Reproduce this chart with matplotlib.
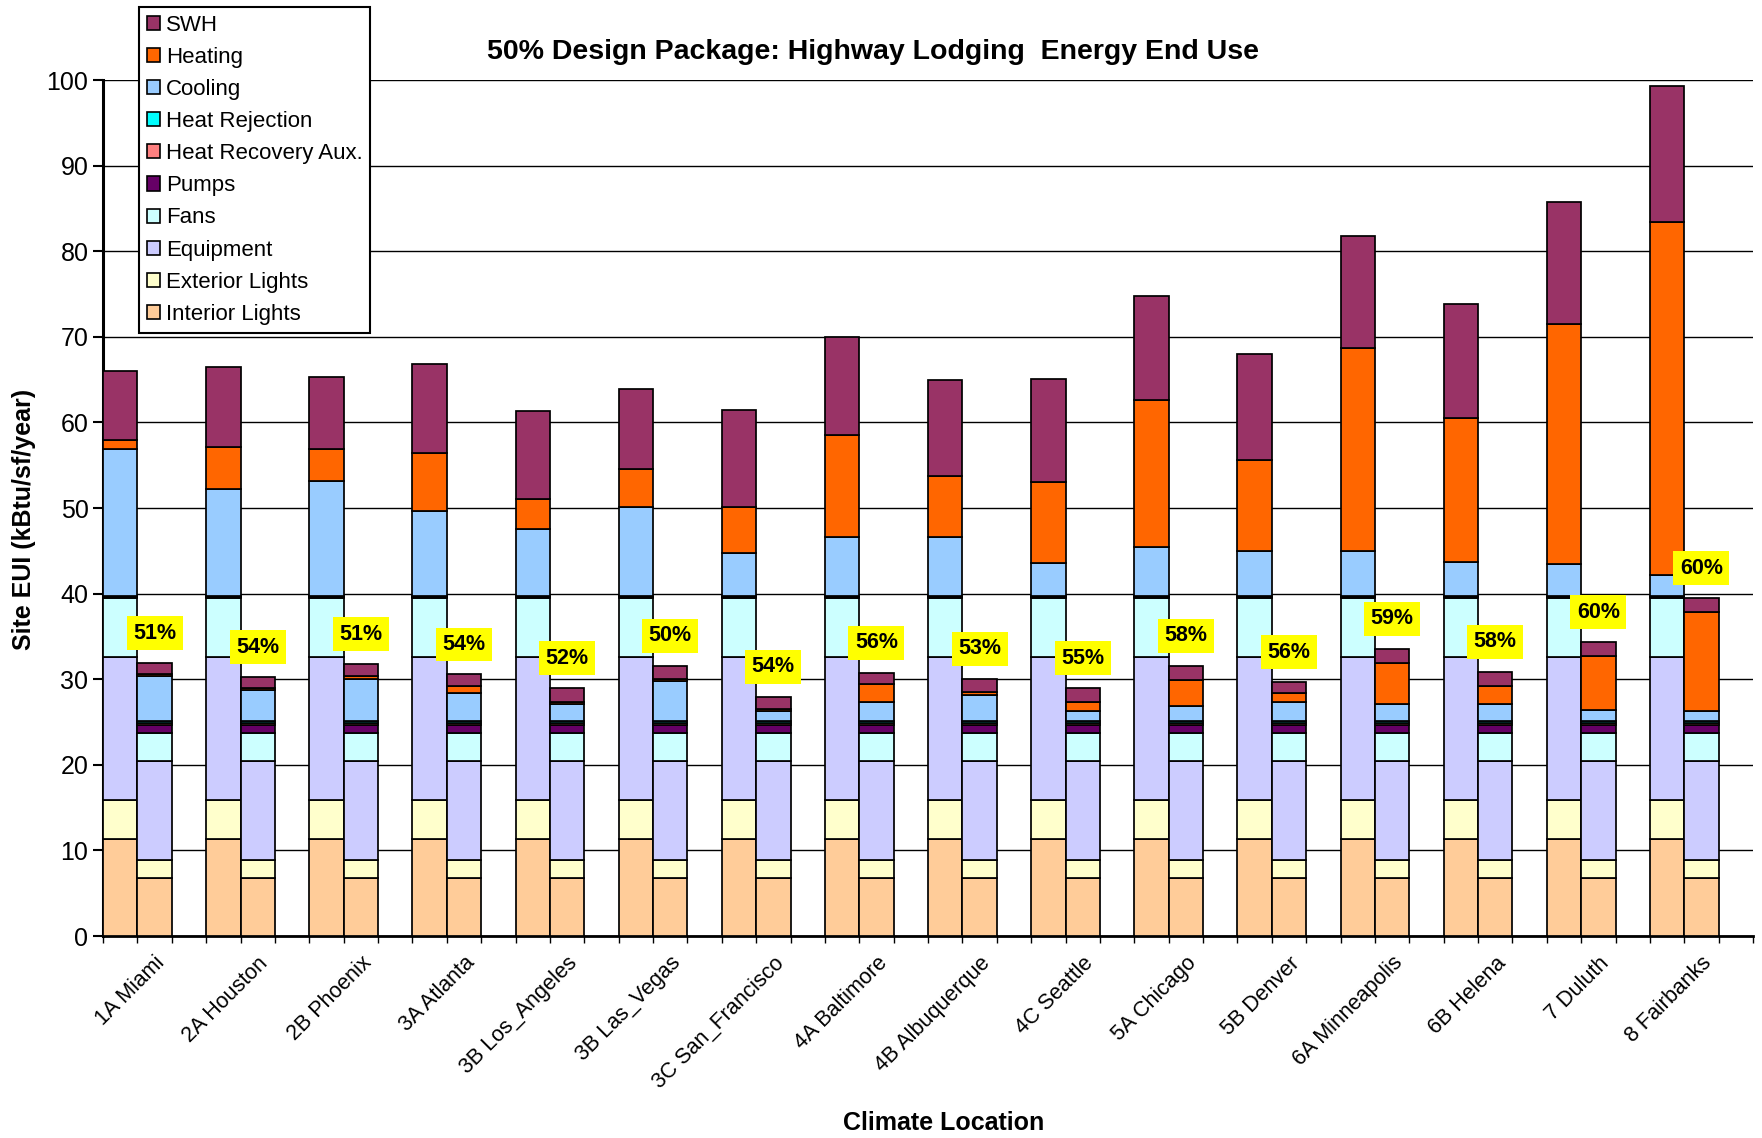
import matplotlib
matplotlib.use("Agg")
import matplotlib.pyplot as plt
import numpy as np
from matplotlib.patches import Patch

plt.rcParams["font.family"] = ["Liberation Sans", "DejaVu Sans"]

W, H = 1762, 1138

LOCATIONS = [
    "1A Miami", "2A Houston", "2B Phoenix", "3A Atlanta", "3B Los_Angeles",
    "3B Las_Vegas", "3C San_Francisco", "4A Baltimore", "4B Albuquerque",
    "4C Seattle", "5A Chicago", "5B Denver", "6A Minneapolis", "6B Helena",
    "7 Duluth", "8 Fairbanks",
]
SAVINGS = ["51%", "54%", "51%", "54%", "52%", "50%", "54%", "56%",
           "53%", "55%", "58%", "56%", "59%", "58%", "60%", "60%"]

# stacking order, bottom to top
END_USES = ["Interior Lights", "Exterior Lights", "Equipment", "Fans", "Pumps",
            "Heat Recovery Aux.", "Heat Rejection", "Cooling", "Heating", "SWH"]
COLORS = ["#FFCC99", "#FFFFCC", "#CCCCFF", "#CCFFFF", "#660066",
          "#FF8080", "#00FFFF", "#99CCFF", "#FF6600", "#993366"]

# same in every climate (kBtu/sf/yr)
base_interior = 11.35
base_exterior = 4.5
base_equipment = 16.8
base_fans = 6.8
base_pumps = 0.15
base_hrec = 0.05
base_hrej = 0.05

des_interior = 6.75
des_exterior = 2.1
des_equipment = 11.6
des_fans = 3.25
des_pumps = 1.0
des_hrec = 0.2
des_hrej = 0.2

base_cooling = [17.2, 12.5, 13.4, 9.9, 7.8, 10.4, 5.05, 6.9, 6.9, 3.9, 5.8, 5.3, 5.3, 4.0, 3.8, 2.5]
base_heating = [1.1, 4.9, 3.8, 6.8, 3.5, 4.4, 5.35, 11.9, 7.1, 9.4, 17.1, 10.6, 23.7, 16.8, 28.0, 41.2]
base_swh = [8.0, 9.4, 8.4, 10.4, 10.3, 9.4, 11.4, 11.5, 11.2, 12.1, 12.2, 12.4, 13.1, 13.3, 14.3, 15.9]

des_cooling = [5.25, 3.65, 4.95, 3.25, 1.95, 4.65, 1.15, 2.25, 3.0, 1.15, 1.75, 2.25, 2.05, 2.05, 1.35, 1.15]
des_heating = [0.2, 0.25, 0.3, 0.8, 0.25, 0.3, 0.3, 2.1, 0.35, 1.1, 3.1, 1.0, 4.7, 2.1, 6.3, 11.6]
des_swh = [1.3, 1.25, 1.4, 1.4, 1.65, 1.5, 1.4, 1.3, 1.6, 1.6, 1.6, 1.3, 1.7, 1.6, 1.6, 1.6]


def stack(constants, cooling, heating, swh):
    n = len(cooling)
    rows = [np.full(n, c) for c in constants]
    rows += [np.array(cooling), np.array(heating), np.array(swh)]
    return np.array(rows)


baseline = stack([base_interior, base_exterior, base_equipment, base_fans,
                  base_pumps, base_hrec, base_hrej], base_cooling, base_heating, base_swh)
design = stack([des_interior, des_exterior, des_equipment, des_fans,
                des_pumps, des_hrec, des_hrej], des_cooling, des_heating, des_swh)

fig = plt.figure(figsize=(W / 100, H / 100), dpi=100)
ax = fig.add_axes([103 / W, 1 - 936 / H, 1650 / W, (936 - 80) / H])

n = len(LOCATIONS)
x_base = np.arange(n) * 3
x_des = x_base + 1

bottom_b = np.zeros(n)
bottom_d = np.zeros(n)
for k, color in enumerate(COLORS):
    ax.bar(x_base, baseline[k], bottom=bottom_b, width=1.0, color=color,
           edgecolor="black", linewidth=1.25, zorder=3)
    ax.bar(x_des, design[k], bottom=bottom_d, width=1.0, color=color,
           edgecolor="black", linewidth=1.25, zorder=3)
    bottom_b += baseline[k]
    bottom_d += design[k]

# savings labels above the design bars
for x, top, txt in zip(x_des, bottom_d, SAVINGS):
    ax.text(x, top + 3.5, txt, ha="center", va="center", fontsize=15.5,
            fontweight="bold", zorder=5,
            bbox=dict(boxstyle="square,pad=0.3", facecolor="#FFFF00", edgecolor="none"))

ax.set_xlim(-0.5, 47.5)
ax.set_ylim(0, 100)
ax.set_yticks(np.arange(0, 101, 10))
ax.tick_params(axis="y", labelsize=18, length=7, width=1.5, direction="out")
ax.yaxis.grid(True, color="black", linewidth=1.0)
ax.set_axisbelow(True)

ax.set_xticks(np.arange(-0.5, 48, 1.0))
ax.set_xticklabels([])
ax.tick_params(axis="x", which="major", length=5, width=1.0, direction="out")
ax.set_xticks(x_des, minor=True)
ax.set_xticklabels(LOCATIONS, minor=True, rotation=45, ha="right",
                   rotation_mode="anchor", fontsize=15.5)
ax.tick_params(axis="x", which="minor", length=0, pad=12)

for side in ("top", "right"):
    ax.spines[side].set_visible(False)
ax.spines["left"].set_linewidth(2.2)
ax.spines["bottom"].set_linewidth(2.0)

fig.text(873 / W, 1 - 52 / H, "50% Design Package: Highway Lodging  Energy End Use",
         ha="center", va="center", fontsize=20.5, fontweight="bold")
fig.text(24 / W, 1 - 519 / H, "Site EUI (kBtu/sf/year)", rotation=90,
         ha="center", va="center", fontsize=18, fontweight="bold")
fig.text(944 / W, 1 - 1123 / H, "Climate Location",
         ha="center", va="center", fontsize=18, fontweight="bold")

handles = [Patch(facecolor=c, edgecolor="black", linewidth=1.2) for c in COLORS][::-1]
leg = fig.legend(handles, END_USES[::-1], loc="upper left",
                 bbox_to_anchor=(139 / W, 1 - 7 / H), fontsize=16,
                 frameon=True, fancybox=False, framealpha=1, edgecolor="black",
                 handlelength=0.6, handleheight=0.6, handletextpad=0.25,
                 labelspacing=0.5, borderpad=0.35, borderaxespad=0)
leg.get_frame().set_linewidth(1.5)

fig.savefig("out.png", dpi=100)
